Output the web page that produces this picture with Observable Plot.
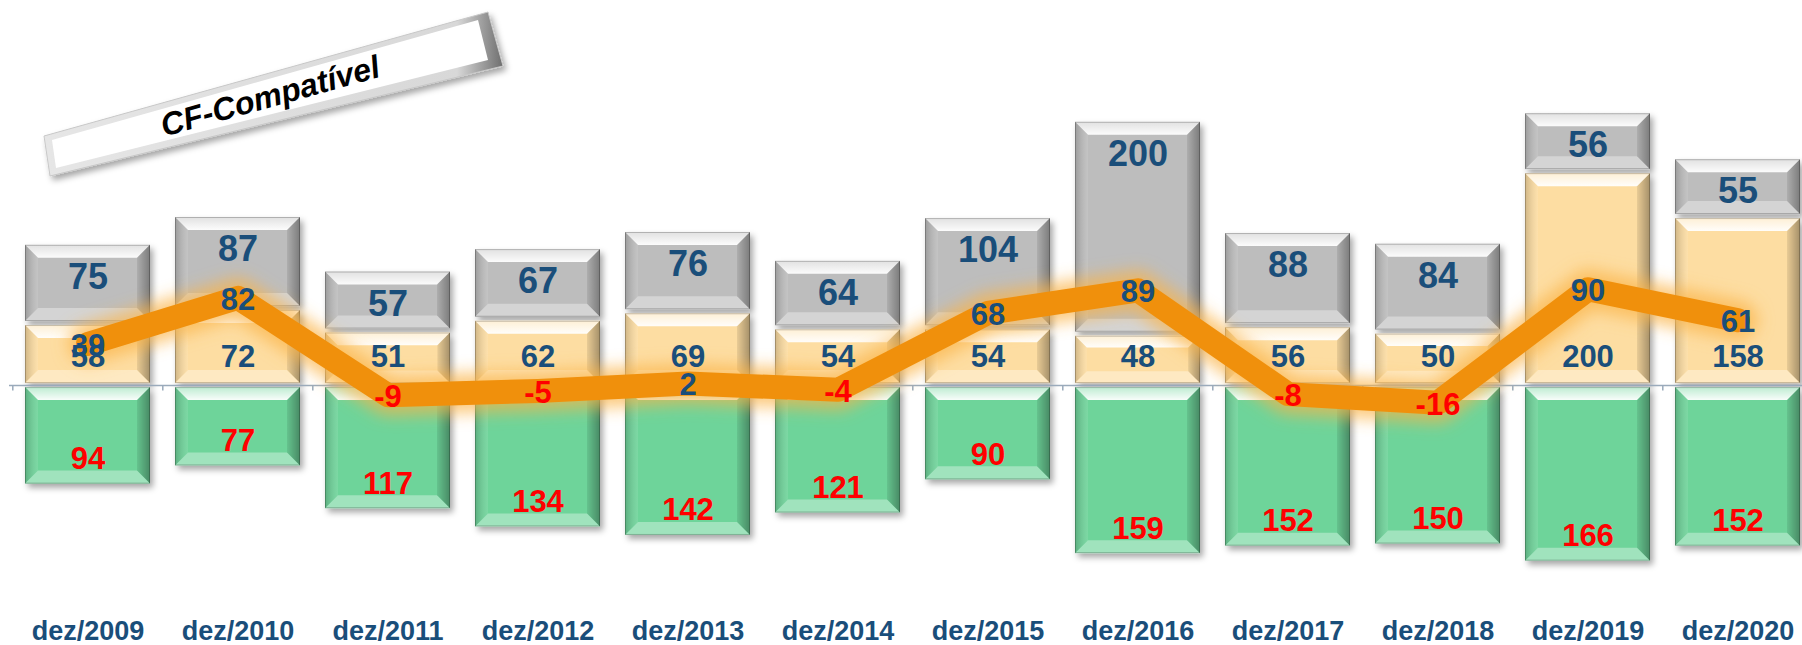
<!DOCTYPE html>
<html><head><meta charset="utf-8">
<script src="https://cdn.jsdelivr.net/npm/d3@7"></script>
<script src="https://cdn.jsdelivr.net/npm/@observablehq/plot@0.6"></script>
<style>
body{margin:0;background:#fff;overflow:hidden}
#chart{position:relative;width:1802px;height:645px}
</style></head><body><div id="chart"></div>
<script>
const categories = ["dez/2009","dez/2010","dez/2011","dez/2012","dez/2013","dez/2014","dez/2015","dez/2016","dez/2017","dez/2018","dez/2019","dez/2020"];
const grayValues   = [75, 87, 57, 67, 76, 64, 104, 200, 88, 84, 56, 55];
const orangeValues = [58, 72, 51, 62, 69, 54, 54, 48, 56, 50, 200, 158];
const greenValues  = [94, 77, 117, 134, 142, 121, 90, 159, 152, 150, 166, 152];
const lineValues   = [39, 82, -9, -5, 2, -4, 68, 89, -8, -16, 90, 61];
const seriesNames  = ["middle", "top", "negative"];
const seriesColors = ["#FDDDA2", "#BDBDBD", "#6ED49A"];
const boxLabel = "CF-Compatível";

const blue = "#1A4E7A", red = "#FF0000";

const rows = [];
categories.forEach((c, i) => {
  rows.push({cat: c, series: "middle", value: orangeValues[i]});
  rows.push({cat: c, series: "top", value: grayValues[i]});
  rows.push({cat: c, series: "negative", value: -greenValues[i]});
});
const topLabels = categories.map((c, i) => ({cat: c, y: orangeValues[i] + grayValues[i], t: grayValues[i]}));
const midLabels = categories.map((c, i) => ({cat: c, y: 0, t: orangeValues[i]}));
const negLabels = categories.map((c, i) => ({cat: c, y: -greenValues[i], t: greenValues[i]}));
const lineRows  = categories.map((c, i) => ({cat: c, v: lineValues[i]}));

const font = "Liberation Sans, Arial, sans-serif";

const svg = Plot.plot({
  width: 1802, height: 645,
  marginTop: 0, marginBottom: 46, marginLeft: 22, marginRight: 0,
  x: {domain: categories, paddingInner: 0.17, paddingOuter: 0, label: null},
  y: {domain: [-200, 360], axis: null},
  color: {domain: seriesNames, range: seriesColors},
  style: {fontFamily: font, background: "white"},
  marks: [
    Plot.barY(rows, {x: "cat", y: "value", fill: "series", insetTop: 2, insetBottom: 2, className: "seg"}),
    Plot.ruleY([0], {stroke: "#9AAABB", strokeWidth: 1.5, insetLeft: -13}),
    Plot.ruleX(categories, {x: d => d, y1: 0, y2: -5, dx: -75.2, stroke: "#9AAABB", strokeWidth: 1.5}),
    Plot.line(lineRows, {x: "cat", y: "v", stroke: "#FBB347", strokeWidth: 40, strokeOpacity: 0.7, strokeLinecap: "round", strokeLinejoin: "round", className: "glow"}),
    Plot.line(lineRows, {x: "cat", y: "v", stroke: "#F0900C", strokeWidth: 24, strokeLinecap: "round", strokeLinejoin: "round"}),
    Plot.text(topLabels, {x: "cat", y: "y", text: "t", dy: 34, fontSize: 36, fontWeight: "bold", fill: blue}),
    Plot.text(midLabels, {x: "cat", y: "y", text: "t", dy: -28, fontSize: 31, fontWeight: "bold", fill: blue}),
    Plot.text(negLabels, {x: "cat", y: "y", text: "t", dy: -27, fontSize: 31, fontWeight: "bold", fill: red}),
    Plot.text(lineRows, {filter: d => d.v >= 0, x: "cat", y: "v", text: "v", dy: 2, fontSize: 31, fontWeight: "bold", fill: blue}),
    Plot.text(lineRows, {filter: d => d.v < 0, x: "cat", y: "v", text: "v", dy: 2, fontSize: 31, fontWeight: "bold", fill: red}),
    Plot.axisX({tickSize: 0, tickPadding: 21, fontSize: 27, fontWeight: "bold", color: blue, label: null})
  ]
});
document.getElementById("chart").appendChild(svg);

const ns = "http://www.w3.org/2000/svg";
function el(tag, attrs, parent) {
  const e = document.createElementNS(ns, tag);
  for (const k in attrs) e.setAttribute(k, attrs[k]);
  if (parent) parent.appendChild(e);
  return e;
}
const defs = el("defs", {}, null);
svg.insertBefore(defs, svg.firstChild);
const sh = el("filter", {id: "shadow", x: "-20%", y: "-20%", width: "150%", height: "150%"}, defs);
el("feDropShadow", {dx: 3, dy: 4, stdDeviation: 3, "flood-color": "#000", "flood-opacity": 0.35}, sh);
const gl = el("filter", {id: "glow", x: "-10%", y: "-60%", width: "120%", height: "220%"}, defs);
el("feGaussianBlur", {stdDeviation: 8}, gl);
const topGrad = el("linearGradient", {id: "topg", x1: 0, y1: 0, x2: 0, y2: 1}, defs);
el("stop", {offset: "0", "stop-color": "#fff", "stop-opacity": 0.55}, topGrad);
el("stop", {offset: "1", "stop-color": "#fff", "stop-opacity": 0.95}, topGrad);
const rightGrad = el("linearGradient", {id: "rightg", x1: 0, y1: 0, x2: 1, y2: 0}, defs);
el("stop", {offset: "0", "stop-color": "#000", "stop-opacity": 0.08}, rightGrad);
el("stop", {offset: "1", "stop-color": "#000", "stop-opacity": 0.35}, rightGrad);
const leftGrad = el("linearGradient", {id: "leftg", x1: 0, y1: 0, x2: 1, y2: 0}, defs);
el("stop", {offset: "0", "stop-color": "#000", "stop-opacity": 0.18}, leftGrad);
el("stop", {offset: "1", "stop-color": "#fff", "stop-opacity": 0.1}, leftGrad);

const seg = svg.querySelector("g.seg");
if (seg) {
  seg.setAttribute("filter", "url(#shadow)");
  const rects = Array.from(seg.querySelectorAll("rect"));
  rects.forEach(r => {
    const x = +r.getAttribute("x"), y = +r.getAttribute("y"), w = +r.getAttribute("width"), h = +r.getAttribute("height");
    const b = Math.min(13, h / 4, w / 4);
    const g = el("g", {}, null);
    r.parentNode.insertBefore(g, r.nextSibling);
    const P = pts => pts.map(p => p.join(",")).join(" ");
    el("polygon", {points: P([[x, y], [x + w, y], [x + w - b, y + b], [x + b, y + b]]), fill: "url(#topg)"}, g);
    el("polygon", {points: P([[x, y], [x + b, y + b], [x + b, y + h - b], [x, y + h]]), fill: "url(#leftg)"}, g);
    el("polygon", {points: P([[x + w, y], [x + w, y + h], [x + w - b, y + h - b], [x + w - b, y + b]]), fill: "url(#rightg)"}, g);
    el("polygon", {points: P([[x, y + h], [x + b, y + h - b], [x + w - b, y + h - b], [x + w, y + h]]), fill: "#fff", "fill-opacity": 0.35}, g);
    el("rect", {x: x + 0.5, y: y + 0.5, width: Math.max(0, w - 1), height: Math.max(0, h - 1), fill: "none", stroke: "#000", "stroke-opacity": 0.22}, g);
  });
}
const glow = svg.querySelector("g.glow");
if (glow) glow.setAttribute("filter", "url(#glow)");

// rotated label box
const boxGrad = el("linearGradient", {id: "boxg", x1: 0, y1: 0, x2: 1, y2: 0}, defs);
el("stop", {offset: "0", "stop-color": "#e6e6e6"}, boxGrad);
el("stop", {offset: "0.9", "stop-color": "#d8d8d8"}, boxGrad);
el("stop", {offset: "1", "stop-color": "#6e6e6e"}, boxGrad);
const bg = el("g", {filter: "url(#shadow)"}, svg);
el("polygon", {points: "44,136 488,12 503,66 50,176", fill: "url(#boxg)", stroke: "#c8c8c8"}, bg);
el("polygon", {points: "52,140 478,20 488,60 56,168", fill: "#ffffff"}, bg);
const t = el("text", {x: 270, y: 96, "text-anchor": "middle", "dominant-baseline": "central", "font-family": font, "font-size": 32, "font-weight": "bold", "font-style": "italic", fill: "#000", transform: "rotate(-15.5 270 96)"}, svg);
t.textContent = boxLabel;
</script></body></html>
